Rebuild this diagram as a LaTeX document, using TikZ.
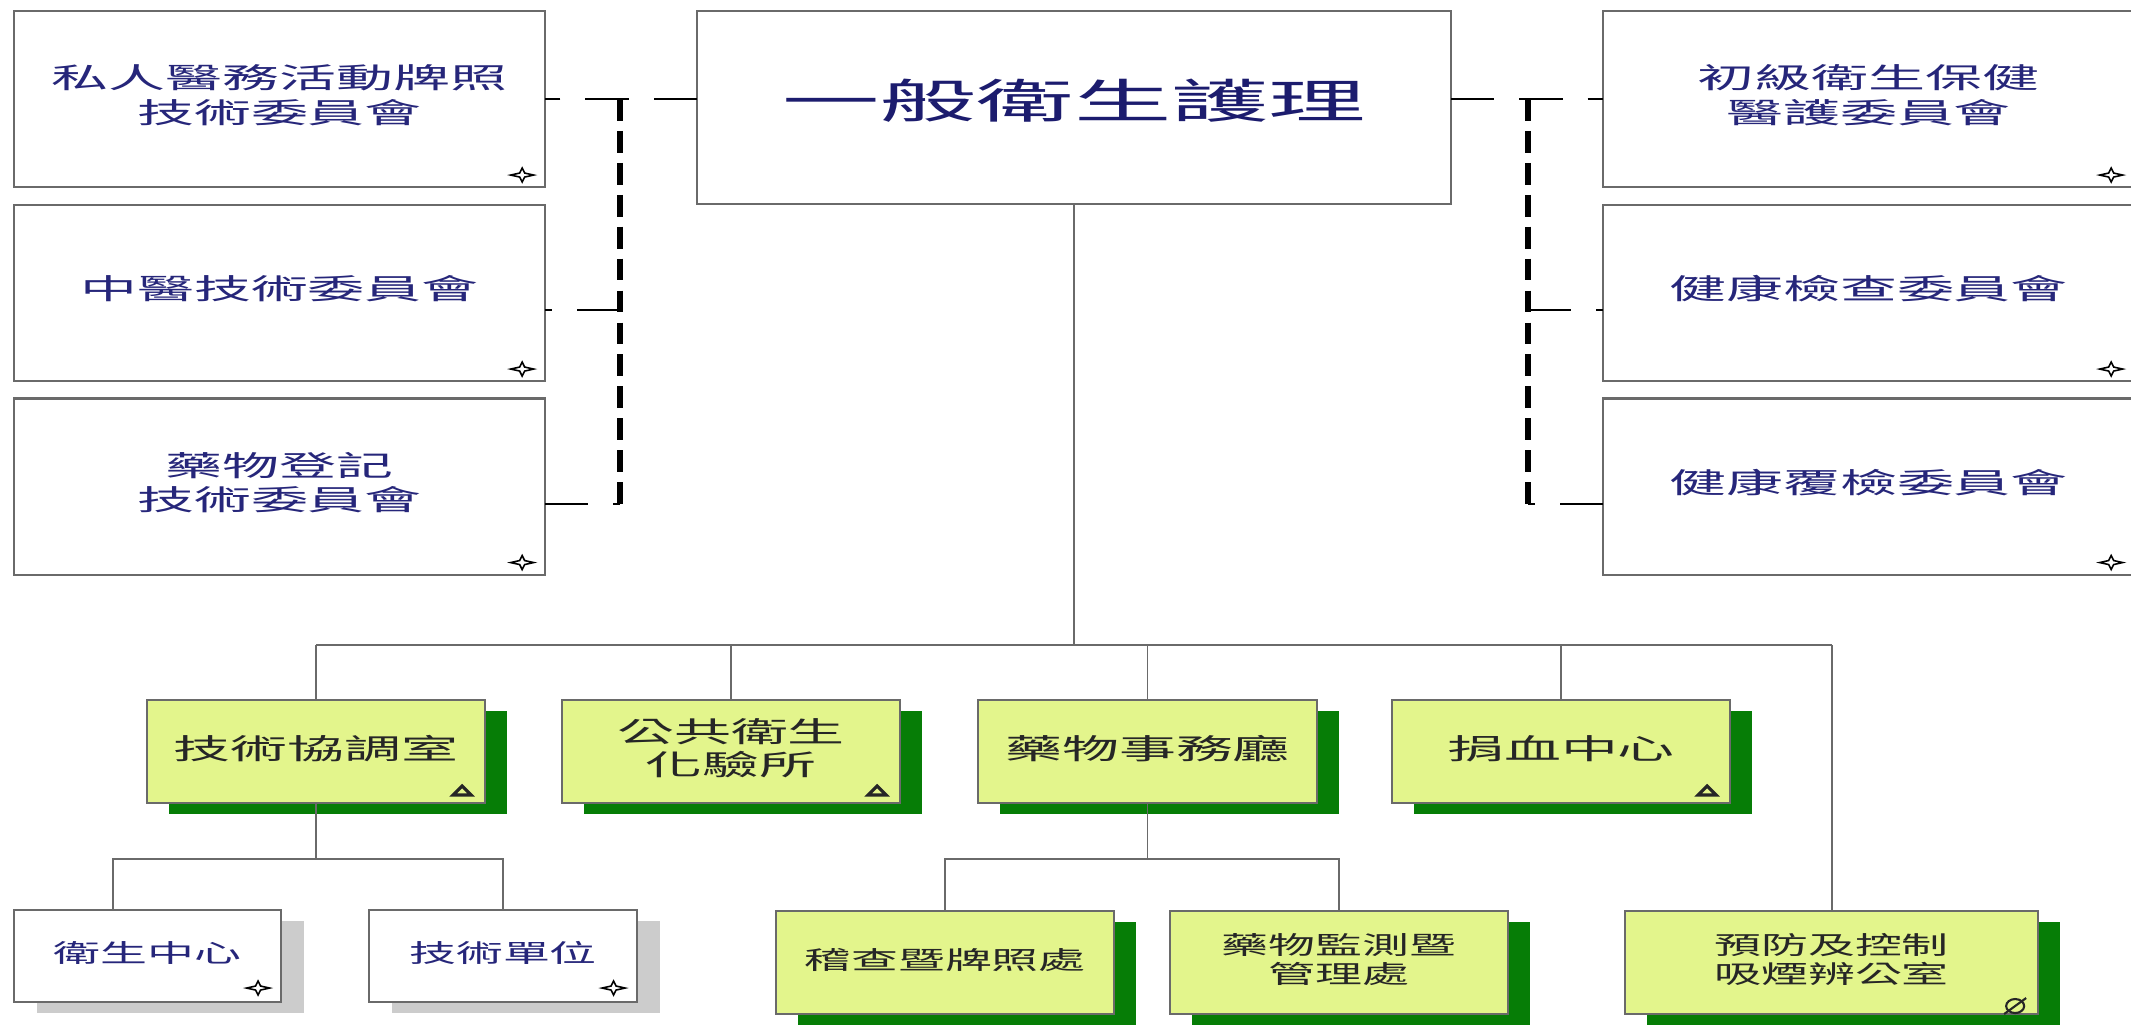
\documentclass[tikz,border=0pt]{standalone}
\usepackage{fontspec}
\usepackage{graphicx}
\newfontfamily\cjkfont{Noto Sans CJK TC}
\usetikzlibrary{calc,shadows}
\definecolor{ogNavy}  {HTML}{26267A}
\definecolor{ogTitle} {HTML}{1C1C6E}
\definecolor{ogInk}   {HTML}{262626}
\definecolor{ogLime}  {HTML}{E3F58C}
\definecolor{ogLeaf}  {HTML}{067D06}
\definecolor{ogEdge}  {HTML}{6A6A6A}
\definecolor{ogShade} {HTML}{CCCCCC}
\newcommand{\orgtext}[2][2]{\scalebox{#1}[1]{\begin{tabular}{@{}c@{}}#2\end{tabular}}}
\tikzset{
  every node/.style={inner sep=0pt,outer sep=0pt},
  board/.style={draw=ogEdge,line width=0.6pt,fill=white,text=ogNavy,
    font=\cjkfont\fontsize{8.1}{9.7}\selectfont,minimum width=5.31cm,minimum height=1.76cm},
  headbox/.style={board,text=ogTitle,font=\cjkfont\fontsize{13.3}{16}\selectfont,
    minimum width=7.54cm,minimum height=1.93cm},
  unit/.style={draw=ogEdge,line width=0.6pt,fill=ogLime,text=ogInk,
    font=\cjkfont\fontsize{8.1}{8.5}\selectfont,minimum width=3.38cm,minimum height=1.03cm,
    drop shadow={shadow xshift=0.22cm,shadow yshift=-0.11cm,fill=ogLeaf,opacity=1}},
  subunit/.style={unit,font=\cjkfont\fontsize{7.1}{7.4}\selectfont},
  office/.style={draw=ogEdge,line width=0.6pt,fill=white,text=ogNavy,
    font=\cjkfont\fontsize{7.1}{7.4}\selectfont,minimum width=2.67cm,minimum height=0.92cm,
    drop shadow={shadow xshift=0.23cm,shadow yshift=-0.11cm,fill=ogShade,opacity=1}},
  tree/.style={draw=ogEdge,line width=0.55pt},
  link/.style={draw=black,line width=0.75pt,dash pattern=on 12.3pt off 7.1pt},
  spine/.style={draw=black,line width=1.5pt,dash pattern=on 6.2pt off 2.88pt},
  starmark/.pic={\draw[black,line width=0.45pt] (-11.5,0) -- (-2.5,-2) -- (0,-7) -- (2.5,-2)
    -- (11.5,0) -- (2.5,2) -- (0,7) -- (-2.5,2) -- cycle;},
  deltamark/.pic={\draw[ogInk,line width=0.9pt,line join=miter] (-9,4) -- (9,4) -- (0,-5) -- cycle;},
  nullmark/.pic={\draw[ogInk,line width=0.6pt] (0,0) ellipse [x radius=0.09cm,y radius=0.07cm];
    \draw[ogInk,line width=0.6pt] (-11,8) -- (11,-8);}
}
\begin{document}
\begin{tikzpicture}[x=0.01cm,y=-0.01cm]
  \path[use as bounding box,fill=white] (0,0) rectangle (2131,1024);

  \node[headbox] (gen) at (1074,107.5) {\orgtext[2.08]{一般衛生護理}};
  \node[board] (lic) at (279.5,99)    {\orgtext{私人醫務活動牌照\\技術委員會}};
  \node[board] (tcm) at (279.5,293)   {\orgtext{中醫技術委員會}};
  \node[board] (drg) at (279.5,486.5) {\orgtext{藥物登記\\技術委員會}};
  \node[board] (phc) at (1868.5,99)    {\orgtext{初級衛生保健\\醫護委員會}};
  \node[board] (hck) at (1868.5,293)   {\orgtext{健康檢查委員會}};
  \node[board] (hrc) at (1868.5,486.5) {\orgtext{健康覆檢委員會}};

  \node[unit] (tco) at (316,751.5)    {\orgtext{技術協調室}};
  \node[unit] (lab) at (731,751.5)    {\orgtext{公共衛生\\化驗所}};
  \node[unit] (pha) at (1147.5,751.5) {\orgtext{藥物事務廳}};
  \node[unit] (bld) at (1561,751.5)   {\orgtext{捐血中心}};

  \node[office] (hcc) at (147.5,956) {\orgtext[1.88]{衛生中心}};
  \node[office] (tun) at (503,956)   {\orgtext[1.88]{技術單位}};
  \node[subunit] (ins) at (945,962.5)  {\orgtext[1.88]{稽查暨牌照處}};
  \node[subunit] (mon) at (1339,962.5) {\orgtext[1.88]{藥物監測暨\\管理處}};
  \node[subunit,minimum width=4.13cm] (smk) at (1831.5,962.5) {\orgtext[1.88]{預防及控制\\吸煙辨公室}};

  \foreach \nm in {lic,tcm,drg,phc,hck,hrc}
    \pic at ([shift={(-23,-12)}]\nm.south east) {starmark};
  \foreach \nm in {hcc,tun}
    \pic at ([shift={(-23,-14)}]\nm.south east) {starmark};
  \foreach \nm in {tco,lab,bld}
    \pic at ([shift={(-23,-12)}]\nm.south east) {deltamark};
  \pic at ([shift={(-23,-8)}]smk.south east) {nullmark};

  \coordinate (bus) at (0,645);
  \coordinate (lowbus) at (0,859);
  \draw[tree] (gen.south) -- (gen.south |- bus);
  \draw[tree] (tco.north |- bus) -- (smk.north |- bus);
  \foreach \nm in {tco,lab,pha,bld,smk}
    \draw[tree] (\nm.north |- bus) -- (\nm.north);
  \draw[tree] (tco.south) -- (tco.south |- lowbus);
  \draw[tree] ([xshift=-0.345cm]hcc.north) |- (tun.north |- lowbus) -- (tun.north);
  \draw[tree] (pha.south) -- (pha.south |- lowbus);
  \draw[tree] (ins.north) |- (mon.north |- lowbus) -- (mon.north);

  \coordinate (lspine) at (620,99);
  \coordinate (lspine end) at (620,504);
  \coordinate (ltcm) at (620,310);
  \coordinate (rspine) at (1528,99);
  \coordinate (rspine end) at (1528,504);
  \coordinate (rhck) at (1528,310);
  \draw[link] (gen.west |- lic.east) -- (lic.east);
  \draw[link] (ltcm) -- (ltcm -| tcm.east);
  \draw[link] (drg.east |- lspine end) -- (lspine end);
  \draw[spine] (lspine) -- (lspine end);
  \draw[link] (gen.east |- phc.west) -- (phc.west);
  \draw[link] (rhck) -- (rhck -| hck.west);
  \draw[link] (hrc.west |- rspine end) -- (rspine end);
  \draw[spine] (rspine) -- (rspine end);
\end{tikzpicture}
\end{document}
